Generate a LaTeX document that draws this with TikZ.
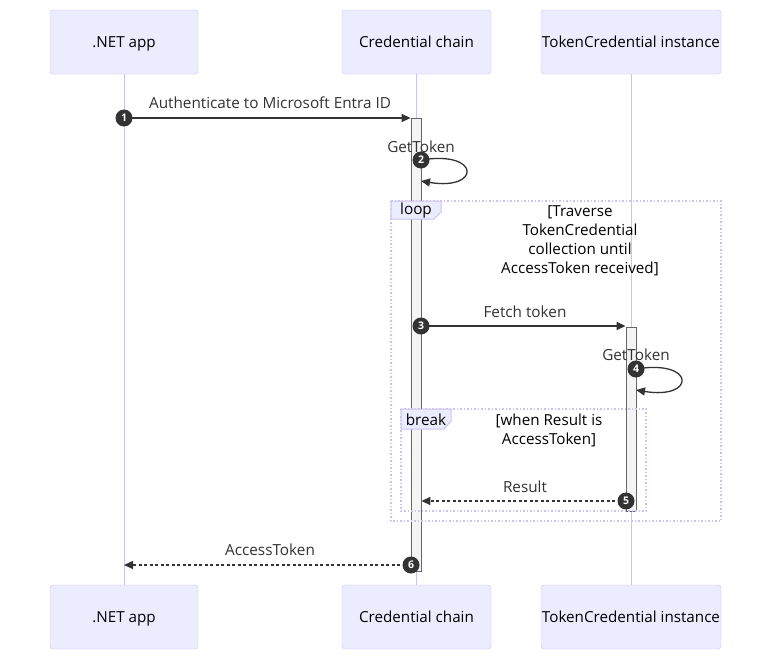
\documentclass[tikz,border=0pt]{standalone}
\usepackage{fontspec}
\setmainfont{Open Sans}
\usepackage{xcolor}
\usetikzlibrary{arrows.meta}

\definecolor{actfill}{HTML}{ECECFF}
\definecolor{actline}{HTML}{CCC2F0}
\definecolor{msgline}{HTML}{333333}
\definecolor{barfill}{HTML}{F4F4F4}
\definecolor{barline}{HTML}{666666}

\tikzset{
    actor/.style={draw=actline,fill=actfill,rounded corners=3pt,minimum height=64pt,inner sep=0pt,text depth=0pt,font=\fontsize{15.2}{18}\selectfont,text=black},
    lifeline/.style={draw=actline,line width=1pt},
    actbar/.style={draw=barline,fill=barfill,line width=0.8pt,minimum width=10pt,inner sep=0pt},
    msg/.style={draw=msgline,line width=1.3pt,-{Triangle[length=9pt,width=8pt]}},
    reply/.style={msg,dash pattern=on 3pt off 2.5pt},
    num/.style={circle,fill=msgline,text=white,inner sep=0pt,minimum size=17pt,font=\bfseries\fontsize{10.5}{10.5}\selectfont},
    lbl/.style={font=\fontsize{15.3}{18}\selectfont,text=msgline,inner sep=0pt},
    frame/.style={draw=actline,line width=1.2pt,dash pattern=on 1.5pt off 2pt},
    tab/.style={draw=actline,fill=actfill,line width=1pt},
    cond/.style={font=\fontsize{15.2}{19}\selectfont,align=center,text=black,inner sep=0pt}
}

\begin{document}
\begin{tikzpicture}[x=1pt,y=-1pt]
    \useasboundingbox[fill=white] (0,0) rectangle (779,667);

    \node[actor,minimum width=148pt] (app) at (124,42) {.NET app};
    \node[actor,minimum width=149pt] (chain) at (416.5,42) {Credential chain};
    \node[actor,minimum width=180pt] (inst) at (631,42) {TokenCredential instance};
    \node[actor,minimum width=148pt] (app2) at (124,617) {.NET app};
    \node[actor,minimum width=149pt] (chain2) at (416.5,617) {Credential chain};
    \node[actor,minimum width=180pt] (inst2) at (631,617) {TokenCredential instance};

    \draw[lifeline] (app) -- (app2);
    \draw[lifeline] (chain) -- (chain2);
    \draw[lifeline] (inst) -- (inst2);

    \node[actbar,minimum height=453pt] (bar1) at (416,344.5) {};
    \node[actbar,minimum height=184pt] (bar2) at (631,419) {};

    \draw[frame] (391,201) rectangle (721,521);
    \draw[tab] (391,201) -- (441,201) -- (441,212) -- (434,219) -- (391,219) -- cycle;
    \node[lbl,text=black] (looplbl) at (416,211) {loop};
    \node[cond] (loopcond) at (580,241) {[Traverse\\TokenCredential\\collection until\\AccessToken received]};

    \draw[frame] (401,409) rectangle (646,511);
    \draw[tab] (401,409) -- (451,409) -- (451,421) -- (444,429) -- (401,429) -- cycle;
    \node[lbl,text=black] (breaklbl) at (426,420) {break};
    \node[cond] (breakcond) at (549,430) {[when Result is\\AccessToken]};

    \coordinate (s1) at (124,118);
    \coordinate (s2) at (421,160);
    \coordinate (e2) at (421,181);
    \coordinate (s3) at (421,326);
    \coordinate (s4) at (636,369);
    \coordinate (e4) at (636,390);
    \coordinate (s5) at (626,501);
    \coordinate (s6) at (411,565);

    \draw[msg] (s1) -- (s1 -| bar1.west);
    \draw[msg] (s2) .. controls +(60,-10) and +(60,10) .. (e2);
    \draw[msg] (s3) -- (s3 -| bar2.west);
    \draw[msg] (s4) .. controls +(60,-10) and +(60,10) .. (e4);
    \draw[reply] (s5) -- (s5 -| bar1.east);
    \draw[reply] (s6) -- (s6 -| app);

    \node[lbl] (m1) at (270,103) {Authenticate to Microsoft Entra ID};
    \node[lbl] (m2) at (421,147) {GetToken};
    \node[lbl] (m3) at (525,312) {Fetch token};
    \node[lbl] (m4) at (636,355) {GetToken};
    \node[lbl] (m5) at (525,487) {Result};
    \node[lbl] (m6) at (270,550) {AccessToken};

    \node[num] (n1) at (s1) {1};
    \node[num] (n2) at (s2) {2};
    \node[num] (n3) at (s3) {3};
    \node[num] (n4) at (s4) {4};
    \node[num] (n5) at (s5) {5};
    \node[num] (n6) at (s6) {6};
\end{tikzpicture}
\end{document}
